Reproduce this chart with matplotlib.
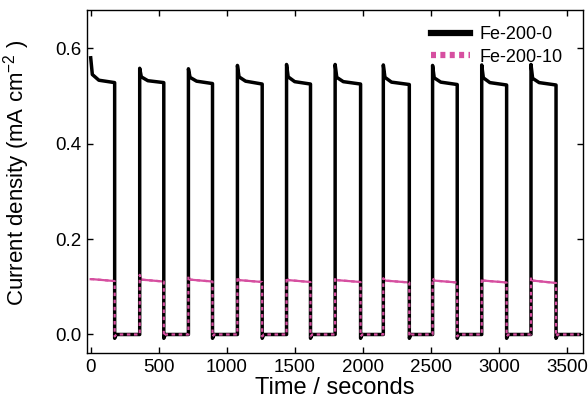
import matplotlib
matplotlib.use("Agg")
import matplotlib.pyplot as plt
from matplotlib.lines import Line2D

plt.rcParams['font.family'] = ['Liberation Sans', 'DejaVu Sans']
plt.rcParams['mathtext.default'] = 'regular'

# ---- data ----
on_times = [0, 360, 718, 1078, 1439, 1796, 2150, 2512, 2873, 3235]
off_times = [176, 537, 895, 1260, 1615, 1983, 2341, 2693, 3056, 3419]
end_time = 3590

black_peak = [0.580, 0.558, 0.557, 0.564, 0.566, 0.566, 0.565, 0.564, 0.565, 0.566]
black_knee = [0.545, 0.540, 0.539, 0.540, 0.540, 0.539, 0.539, 0.538, 0.538, 0.537]
black_mid = [0.533, 0.532, 0.531, 0.531, 0.530, 0.530, 0.529, 0.529, 0.528, 0.528]
black_end = [0.528, 0.528, 0.526, 0.525, 0.525, 0.525, 0.524, 0.524, 0.523, 0.523]
black_dip = -0.008

pink_peak = [0.116, 0.125, 0.122, 0.121, 0.120, 0.119, 0.118, 0.118, 0.118, 0.120]
pink_start = [0.116, 0.115, 0.115, 0.114, 0.114, 0.114, 0.113, 0.113, 0.113, 0.113]
pink_end = [0.112, 0.111, 0.111, 0.110, 0.110, 0.110, 0.109, 0.109, 0.109, 0.108]
pink_dip = -0.004

x_ticks = [0, 500, 1000, 1500, 2000, 2500, 3000, 3500]
y_ticks = [0.0, 0.2, 0.4, 0.6]


def build(peaks, knees, mids, ends, dip):
    xs, ys = [], []
    for i, (ton, toff) in enumerate(zip(on_times, off_times)):
        if i > 0:
            xs += [ton]
            ys += [0.0]
        xs += [ton, ton + 12]
        ys += [peaks[i], knees[i]]
        if mids is not None:
            xs += [ton + 60]
            ys += [mids[i]]
        xs += [toff, toff, toff + 12]
        ys += [ends[i], dip, 0.0]
    xs += [end_time]
    ys += [0.0]
    return xs, ys


bx, by = build(black_peak, black_knee, black_mid, black_end, black_dip)
px, py = build(pink_peak, pink_start, None, pink_end, pink_dip)

pink = '#d64fa0'

fig = plt.figure(figsize=(5.88, 4.04), dpi=100)
ax = fig.add_axes([0.148, 0.126, 0.843, 0.849])

ax.plot(px, py, color=pink, lw=1.6, zorder=2)
ax.plot(bx, by, color='black', lw=2.5, zorder=3)
ax.plot(px, py, color=pink, lw=1.6, linestyle=(0, (1.6, 1.6)), zorder=4)

ax.set_xlim(-27, 3615)
ax.set_ylim(-0.039, 0.68)
ax.set_xticks(x_ticks)
ax.set_yticks(y_ticks)
ax.set_yticklabels([f"{v:.1f}" for v in y_ticks])
ax.tick_params(direction='in', top=True, right=True, length=4, width=1,
               labelsize=13.5, pad=4)
for s in ax.spines.values():
    s.set_linewidth(1.0)

ax.set_xlabel('Time / seconds', fontsize=17, labelpad=1)
ax.set_ylabel('Current density (mA cm$^{-2}$ )', fontsize=16)
ax.yaxis.set_label_coords(-0.11, 0.525)

handles = [Line2D([], [], color='black', lw=4.5),
           Line2D([], [], color=pink, lw=4.5, linestyle=(0, (0.8, 0.7)))]
ax.legend(handles, ['Fe-200-0', 'Fe-200-10'], loc='upper right', frameon=False,
          fontsize=13, handlelength=2.2, handletextpad=0.5, labelspacing=0.3,
          borderaxespad=0.3, bbox_to_anchor=(0.985, 0.99))

fig.savefig('out.png', dpi=100)
